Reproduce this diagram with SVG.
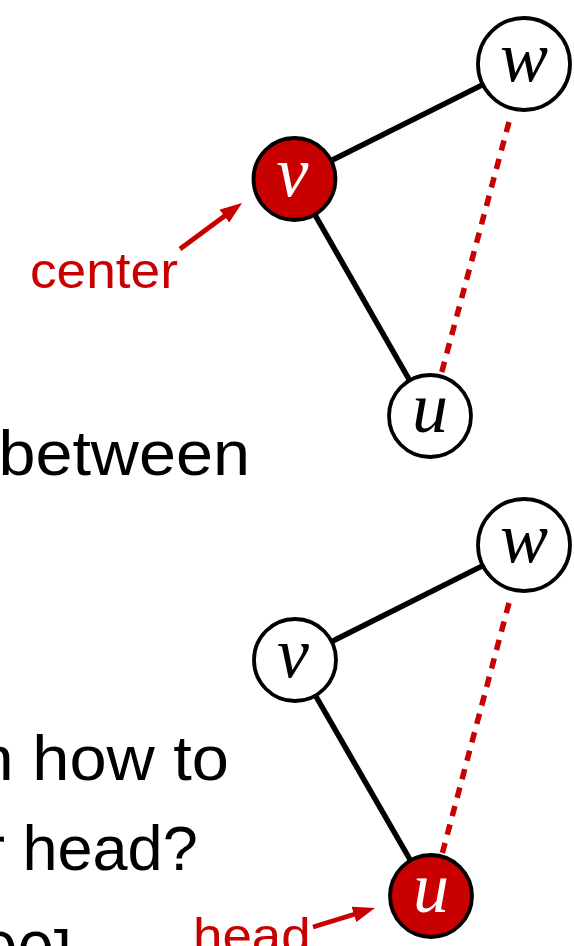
<svg xmlns="http://www.w3.org/2000/svg" width="574" height="946" viewBox="0 0 574 946">
  <style>
    .body { font-family: "Liberation Sans", Arial, sans-serif; font-size: 63px; fill: #000; }
    .note { font-family: "Liberation Sans", Arial, sans-serif; font-size: 50px; fill: #c80000; }
    .edge { stroke: #000; stroke-width: 5.5; fill: none; }
    .dash { stroke: #c80000; stroke-width: 5.5; stroke-dasharray: 10.5 8.6; fill: none; }
    .ptr { stroke: #c80000; stroke-width: 4.8; fill: none; marker-end: url(#tip); }
    .node { fill: #fff; stroke: #000; stroke-width: 3.8; }
    .node.hot { fill: #c80000; }
    .lbl { font-family: "Liberation Serif", "Times New Roman", serif; font-style: italic; font-size: 72px; text-anchor: middle; fill: #000; }
    .lbl.hot { fill: #fff; }
  </style>
  <defs>
    <marker id="tip" markerUnits="userSpaceOnUse" markerWidth="22" markerHeight="16" viewBox="0 0 22 16" refX="10" refY="8" orient="auto">
      <path d="M0,0 L22,8 L0,16 z" fill="#c80000"/>
    </marker>
  </defs>

  <!-- body text lines, cut by the left and bottom edges -->
  <g id="text">
    <text class="body" x="-1.6" y="475" textLength="251.5" lengthAdjust="spacingAndGlyphs">between</text>
    <text class="body" x="-23.4" y="780" textLength="252.3" lengthAdjust="spacingAndGlyphs">n how to</text>
    <text class="body" x="-16" y="870">r head?</text>
    <text class="body" x="-19" y="975" textLength="91" lengthAdjust="spacingAndGlyphs">00]</text>
  </g>

  <!-- upper triangle: v is the center -->
  <g id="connectors-top">
    <line class="edge" x1="294.5" y1="179" x2="524" y2="64"/>
    <line class="edge" x1="294.5" y1="179" x2="430" y2="416"/>
    <line class="dash" x1="509" y1="122" x2="441.1" y2="374.5"/>
    <line class="ptr" x1="180" y1="249" x2="232.4" y2="210.2"/>
  </g>
  <g id="node-w-top">
    <circle class="node" cx="524" cy="64" r="46"/>
    <text class="lbl" x="524" y="81">w</text>
  </g>
  <g id="node-v-top">
    <circle class="node hot" cx="294.5" cy="179" r="41"/>
    <text class="lbl hot" x="292.5" y="196">v</text>
  </g>
  <g id="node-u-top">
    <circle class="node" cx="430" cy="416" r="41"/>
    <text class="lbl" x="430" y="432">u</text>
  </g>
  <g id="label-center">
    <text class="note" x="29.9" y="288" textLength="148" lengthAdjust="spacingAndGlyphs">center</text>
  </g>

  <!-- lower triangle: u is the head -->
  <g id="connectors-bottom">
    <line class="edge" x1="295" y1="660" x2="524" y2="545"/>
    <line class="edge" x1="295" y1="660" x2="431" y2="896"/>
    <line class="dash" x1="509" y1="603" x2="442" y2="854.5"/>
    <line class="ptr" x1="313" y1="927" x2="363.5" y2="911.5"/>
  </g>
  <g id="node-w-bottom">
    <circle class="node" cx="524" cy="545" r="46"/>
    <text class="lbl" x="524" y="562">w</text>
  </g>
  <g id="node-v-bottom">
    <circle class="node" cx="295" cy="660" r="41"/>
    <text class="lbl" x="293" y="677">v</text>
  </g>
  <g id="node-u-bottom">
    <circle class="node hot" cx="431" cy="896" r="41"/>
    <text class="lbl hot" x="431" y="912">u</text>
  </g>
  <g id="label-head">
    <text class="note" x="193" y="953" textLength="117.6" lengthAdjust="spacingAndGlyphs">head</text>
  </g>
</svg>
